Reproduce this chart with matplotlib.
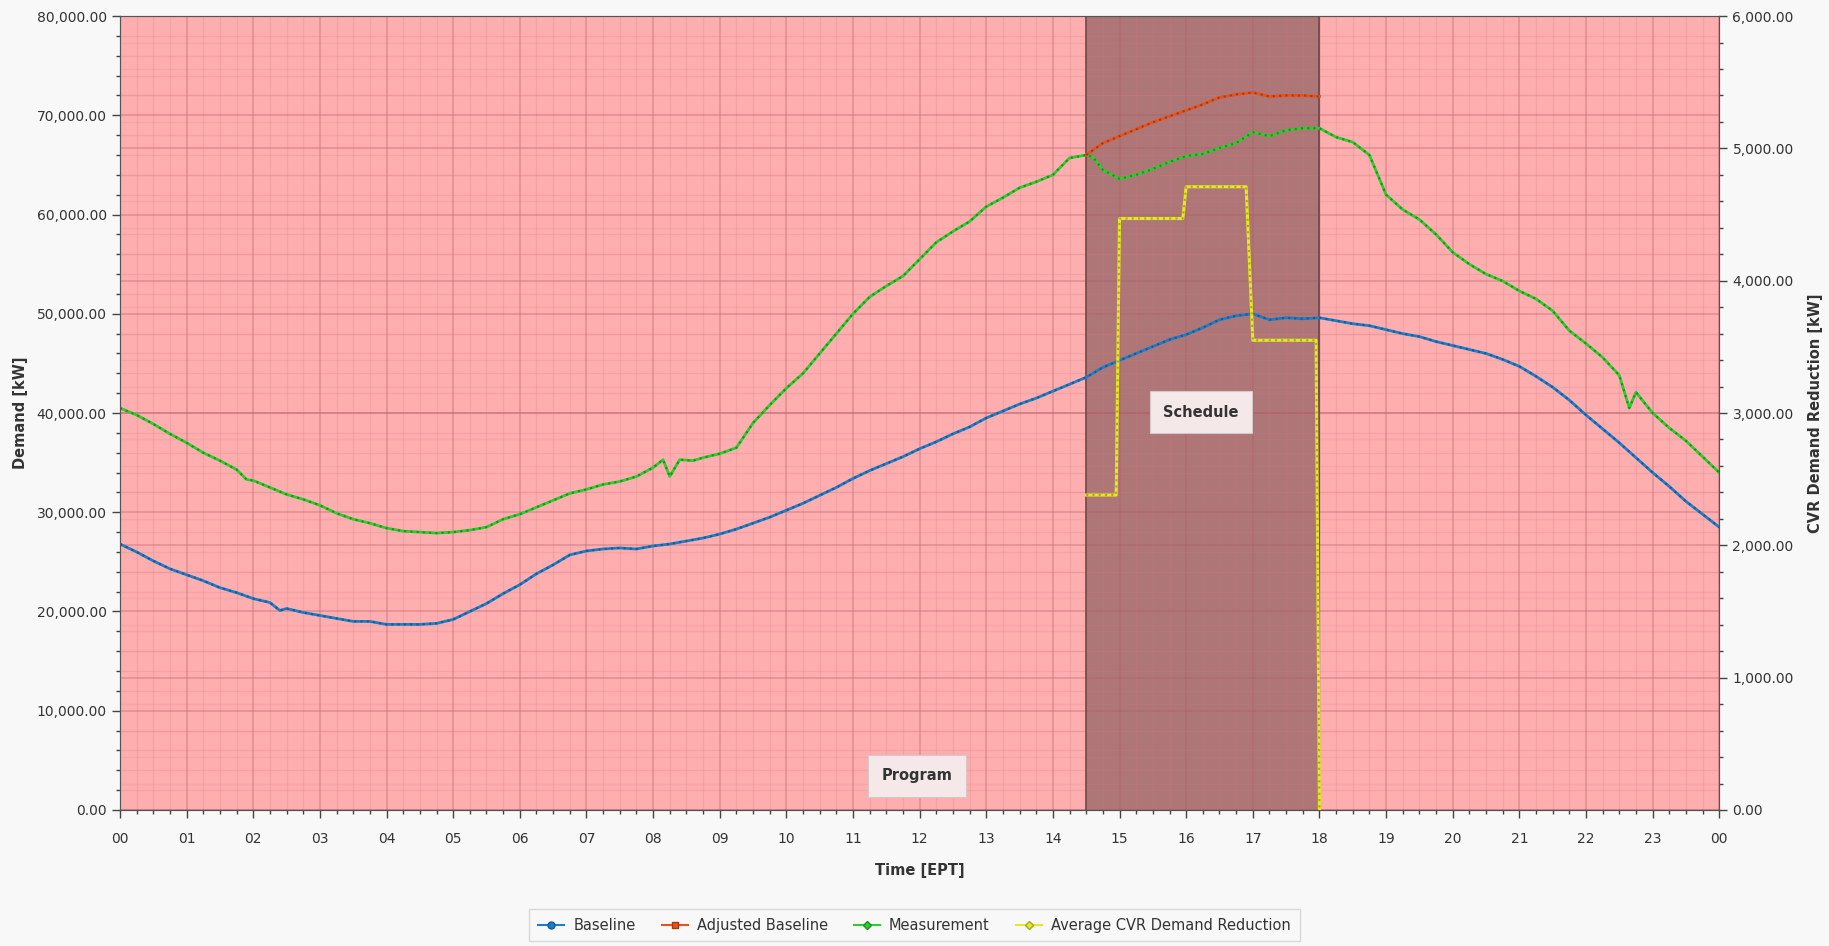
import matplotlib
matplotlib.use('Agg')
from matplotlib import pyplot as plt
from matplotlib.ticker import MultipleLocator, AutoMinorLocator, FuncFormatter
from matplotlib.lines import Line2D

# hours of day, 15 min steps (plus a few extra points at dips)
base_t = [0.00, 0.25, 0.50, 0.75, 1.00, 1.25, 1.50, 1.75, 2.00, 2.25, 2.40, 2.50, 2.75,
          3.00, 3.25, 3.50, 3.75, 4.00, 4.25, 4.50, 4.75, 5.00, 5.25, 5.50, 5.75,
          6.00, 6.25, 6.50, 6.75, 7.00, 7.25, 7.50, 7.75, 8.00, 8.25, 8.50, 8.75,
          9.00, 9.25, 9.50, 9.75, 10.00, 10.25, 10.50, 10.75, 11.00, 11.25, 11.50, 11.75,
          12.00, 12.25, 12.50, 12.75, 13.00, 13.25, 13.50, 13.75, 14.00, 14.25, 14.50, 14.75,
          15.00, 15.25, 15.50, 15.75, 16.00, 16.25, 16.50, 16.75, 17.00, 17.25, 17.50, 17.75,
          18.00, 18.25, 18.50, 18.75, 19.00, 19.25, 19.50, 19.75, 20.00, 20.25, 20.50, 20.75,
          21.00, 21.25, 21.50, 21.75, 22.00, 22.25, 22.50, 22.75, 23.00, 23.25, 23.50, 23.75, 24.00]
baseline = [26800, 26000, 25100, 24300, 23700, 23100, 22400, 21900, 21300, 20900, 20100, 20300, 19900,
            19600, 19300, 19000, 19000, 18700, 18700, 18700, 18800, 19200, 20000, 20800, 21800,
            22700, 23800, 24700, 25700, 26100, 26300, 26400, 26300, 26600, 26800, 27100, 27400,
            27800, 28300, 28900, 29500, 30200, 30900, 31700, 32500, 33400, 34200, 34900, 35600,
            36400, 37100, 37900, 38600, 39500, 40200, 40900, 41500, 42200, 42900, 43600, 44600,
            45300, 46000, 46700, 47400, 47900, 48600, 49400, 49800, 50000, 49400, 49600, 49500,
            49600, 49300, 49000, 48800, 48400, 48000, 47700, 47200, 46800, 46400, 46000, 45400,
            44700, 43700, 42600, 41300, 39800, 38400, 37000, 35500, 34000, 32600, 31100, 29800, 28500]

meas_t = [0.00, 0.25, 0.50, 0.75, 1.00, 1.25, 1.50, 1.75, 1.90, 2.00, 2.25, 2.50, 2.75,
          3.00, 3.25, 3.50, 3.75, 4.00, 4.25, 4.50, 4.75, 5.00, 5.25, 5.50, 5.75,
          6.00, 6.25, 6.50, 6.75, 7.00, 7.25, 7.50, 7.75, 8.00, 8.15, 8.25, 8.40, 8.60, 8.75,
          9.00, 9.25, 9.50, 9.75, 10.00, 10.25, 10.50, 10.75, 11.00, 11.25, 11.50, 11.75,
          12.00, 12.25, 12.50, 12.75, 13.00, 13.25, 13.50, 13.75, 14.00, 14.25, 14.50, 14.60, 14.75,
          15.00, 15.25, 15.50, 15.75, 16.00, 16.25, 16.50, 16.75, 17.00, 17.25, 17.50, 17.75,
          18.00, 18.25, 18.50, 18.75, 19.00, 19.25, 19.50, 19.75, 20.00, 20.25, 20.50, 20.75,
          21.00, 21.25, 21.50, 21.75, 22.00, 22.25, 22.50, 22.65, 22.75, 23.00, 23.25, 23.50, 23.75, 24.00]
measurement = [40500, 39800, 38900, 37900, 37000, 36000, 35200, 34300, 33300, 33200, 32500, 31800, 31300,
               30700, 29900, 29300, 28900, 28400, 28100, 28000, 27900, 28000, 28200, 28500, 29300,
               29800, 30500, 31200, 31900, 32300, 32800, 33100, 33600, 34500, 35300, 33600, 35300, 35200, 35500,
               35900, 36500, 39000, 40800, 42500, 44000, 46000, 48000, 50000, 51700, 52800, 53800,
               55500, 57200, 58300, 59300, 60800, 61700, 62700, 63300, 64000, 65700, 66000, 65800, 64500,
               63600, 64000, 64600, 65300, 65900, 66100, 66700, 67200, 68300, 67900, 68500, 68700,
               68700, 67800, 67300, 66000, 62000, 60500, 59500, 58000, 56200, 55000, 54000, 53300,
               52300, 51500, 50300, 48300, 47000, 45600, 43800, 40500, 42100, 40000, 38500, 37200, 35600, 34000]

adj_t = [14.50, 14.75, 15.00, 15.25, 15.50, 15.75, 16.00, 16.25, 16.50, 16.75, 17.00, 17.25, 17.50, 17.75, 18.00]
adjusted = [66000, 67200, 67900, 68600, 69300, 69900, 70500, 71100, 71800, 72100, 72300, 71900, 72000, 72000, 71900]

cvr_t = [14.50, 14.95, 15.00, 15.95, 16.00, 16.90, 17.00, 17.95, 18.00]
cvr = [2380, 2380, 4470, 4470, 4710, 4710, 3550, 3550, 0]

sched_start, sched_end = 14.5, 18.0
hour_labels = ['%02d' % h for h in range(24)] + ['00']

c_blue = '#1f7dc4'
c_red = '#e8521c'
c_green = '#2fcc2f'
c_yellow = '#e6e62a'

fig = plt.figure(figsize=(18.29, 9.46), dpi=100, facecolor='#f8f8f8')
ax = fig.add_axes([0.0656, 0.1438, 0.8744, 0.8392])
ax2 = ax.twinx()
ax.set_zorder(ax2.get_zorder() - 1)
ax2.patch.set_visible(False)
ax.set_facecolor('#ffaeb0')

ax.axvspan(sched_start, sched_end, color='#ae7676', zorder=1)
for xv in (sched_start, sched_end):
    ax.axvline(xv, color='#6e4a4a', lw=1.2, zorder=2)

ax.set_xlim(0, 24)
ax.set_ylim(0, 80000)
ax2.set_ylim(0, 6000)
ax.xaxis.set_minor_locator(MultipleLocator(0.25))
ax.set_xticks(range(25))
ax.set_xticklabels(hour_labels)
ax.yaxis.set_major_locator(MultipleLocator(10000))
ax.yaxis.set_minor_locator(AutoMinorLocator(5))
ax2.yaxis.set_major_locator(MultipleLocator(1000))
ax2.yaxis.set_minor_locator(AutoMinorLocator(5))
fmt = FuncFormatter(lambda v, p: '{:,.2f}'.format(v))
ax.yaxis.set_major_formatter(fmt)
ax2.yaxis.set_major_formatter(fmt)

ax.grid(which='major', color='#b05a64', alpha=0.4, lw=1.1, zorder=1.5)
ax.grid(which='minor', color='#d07880', alpha=0.22, lw=0.9, zorder=1.5)
# right axis grid drawn on the left axes so it stays behind the lines
for v in range(0, 6001, 200):
    y = v / 6000 * 80000
    if v % 1000 == 0:
        ax.axhline(y, color='#b05a64', alpha=0.4, lw=1.1, zorder=1.5)
    else:
        ax.axhline(y, color='#d07880', alpha=0.18, lw=0.9, zorder=1.5)

for a in (ax, ax2):
    a.tick_params(which='major', direction='out', length=6, width=1, color='#444444',
                  labelsize=10, labelcolor='#333333')
    a.tick_params(which='minor', direction='out', length=3, width=1, color='#444444')
    for s in a.spines.values():
        s.set_color('#555555')
ax.tick_params(axis='x', which='major', pad=10)

ax.plot(base_t, baseline, color=c_blue, lw=2, zorder=5)
ax.plot(base_t, baseline, color='#145a96', lw=1.5, ls=(0, (1, 2)), zorder=6)
ax.plot(meas_t, measurement, color=c_green, lw=2, zorder=5)
ax.plot(meas_t, measurement, color='#1d8f1d', lw=1.5, ls=(0, (1, 2)), zorder=6)
ax.plot(adj_t, adjusted, color=c_red, lw=2, zorder=5)
ax.plot(adj_t, adjusted, color='#a33a10', lw=1.5, ls=(0, (1, 2)), zorder=6)
ax2.plot(cvr_t, cvr, color=c_yellow, lw=2.2, zorder=5)
ax2.plot(cvr_t, cvr, color='#a8a820', lw=1.5, ls=(0, (1, 2)), zorder=6)

box = dict(boxstyle='square,pad=0.9', fc='#f5e8e8', ec='#d8c8c8', lw=0.8)
ax.text(11.96, 3430, 'Program', ha='center', va='center', fontsize=10.5,
        fontweight='bold', color='#333333', bbox=box, zorder=8)
ax.text(16.22, 40100, 'Schedule', ha='center', va='center', fontsize=10.5,
        fontweight='bold', color='#333333', bbox=box, zorder=8)

ax.set_xlabel('Time [EPT]', fontsize=10.5, fontweight='bold', color='#333333', labelpad=12)
ax.set_ylabel('Demand [kW]', fontsize=10.5, fontweight='bold', color='#333333', labelpad=6)
ax2.set_ylabel('CVR Demand Reduction [kW]', fontsize=10.5, fontweight='bold', color='#333333', labelpad=10)

handles = [Line2D([], [], color=c_blue, marker='o', ms=5, lw=1.5, markeredgecolor='#145a96'),
           Line2D([], [], color=c_red, marker='s', ms=4, lw=1.5, markeredgecolor='#a33a10'),
           Line2D([], [], color=c_green, marker='D', ms=4, lw=1.5, markeredgecolor='#1d8f1d'),
           Line2D([], [], color=c_yellow, marker='D', ms=4, lw=1.5, markeredgecolor='#a8a820')]
names = ['Baseline', 'Adjusted Baseline', 'Measurement', 'Average CVR Demand Reduction']
leg = fig.legend(handles, names, loc='center', bbox_to_anchor=(0.5, 0.022), ncol=4,
                 fontsize=10.5, frameon=True, fancybox=False, handlelength=1.8,
                 columnspacing=1.8, handletextpad=0.6, borderpad=0.6)
leg.get_frame().set_facecolor('#f8f8f8')
leg.get_frame().set_edgecolor('#d0d0d0')
for t in leg.get_texts():
    t.set_color('#333333')

plt.savefig('out.png', dpi=100, facecolor=fig.get_facecolor())
